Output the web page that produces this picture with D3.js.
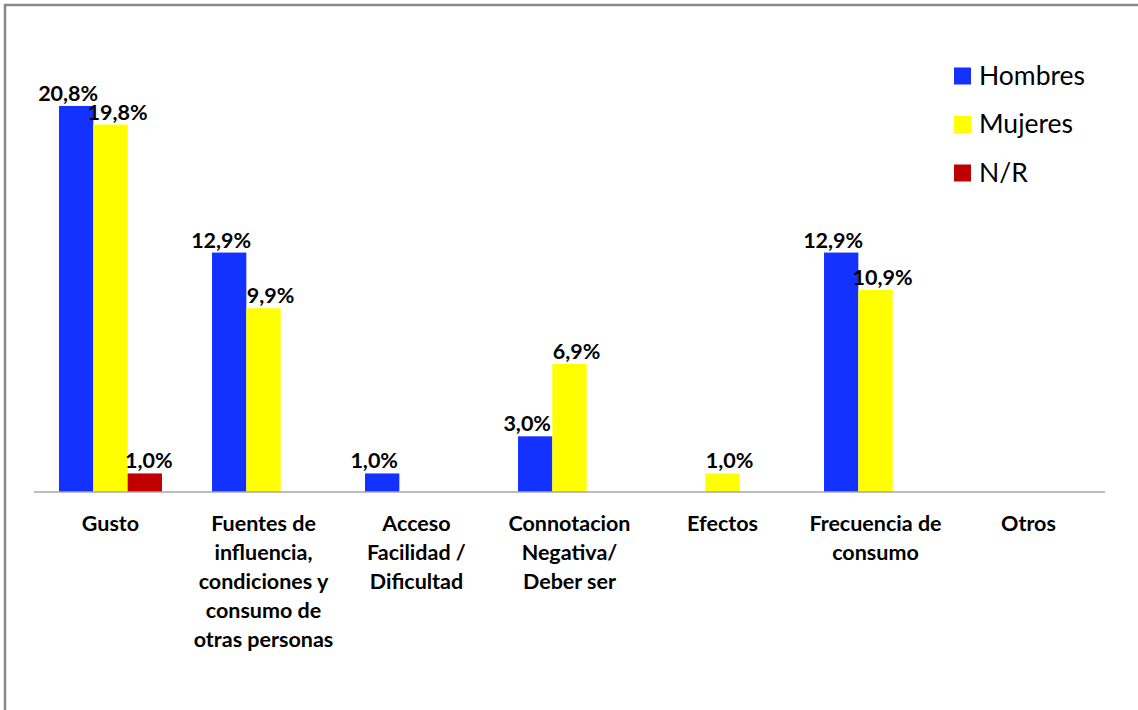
<!DOCTYPE html>
<html>
<head>
<meta charset="utf-8">
<script src="https://cdn.jsdelivr.net/npm/d3@7"></script>
<style>
  body { margin: 0; background: #fff; }
  svg { display: block; }
  .cat-label, .val-label { font-family: Lato, "Open Sans", sans-serif; font-weight: bold; fill: #000; }
  .legend-label { font-family: Lato, "Open Sans", sans-serif; fill: #000; }
</style>
</head>
<body>
<div id="chart"></div>
<script>
// motivos de consumo por sexo (porcentajes)
const categories = ["Gusto", "Fuentes", "Acceso", "Connotacion", "Efectos", "Frecuencia", "Otros"];
const categoryLines = [
    ["Gusto"],
    ["Fuentes de", "influencia,", "condiciones y", "consumo de", "otras personas"],
    ["Acceso", "Facilidad /", "Dificultad"],
    ["Connotacion", "Negativa/", "Deber ser"],
    ["Efectos"],
    ["Frecuencia de", "consumo"],
    ["Otros"]
];
const seriesNames = ["Hombres", "Mujeres", "N/R"];
const hombres = [20.8, 12.9, 1.0, 3.0, 0, 12.9, 0];
const mujeres = [19.8, 9.9, 0, 6.9, 1.0, 10.9, 0];
const noResponde = [1.0, 0, 0, 0, 0, 0, 0];

const seriesValues = [hombres, mujeres, noResponde];
const colors = { "Hombres": "#1432ff", "Mujeres": "#ffff00", "N/R": "#c00000" };
const labelShift = { "Hombres": -8, "Mujeres": 7, "N/R": 4 };

let width = 1138,
    height = 710,
    margin = ({ top: 28, right: 33, bottom: 218, left: 34 });

const svg = d3.select("#chart")
    .append("svg")
    .attr("width", width)
    .attr("height", height);

// frame (only top and left edges fall inside the picture)
svg.append("path")
    .attr("d", "M5,712 L5,5 L1140,5")
    .attr("fill", "none")
    .attr("stroke", "#8a8a8a")
    .attr("stroke-width", 2.5);

let x0 = d3.scaleBand()
    .domain(categories)
    .range([margin.left, width - margin.right])
    .paddingInner(0.327)
    .paddingOuter(0.1635);

let x1 = d3.scaleBand()
    .domain(seriesNames)
    .range([0, x0.bandwidth()]);

let y = d3.scaleLinear()
    .domain([0, 25])
    .range([height - margin.bottom, margin.top]);

let rows = [];
categories.forEach((c, i) => {
    seriesNames.forEach((s, j) => {
        rows.push({ cat: c, series: s, value: seriesValues[j][i] });
    });
});
rows = rows.filter(d => d.value > 0);

svg.append("g")
    .selectAll("rect")
    .data(rows)
    .join("rect")
    .attr("x", d => x0(d.cat) + x1(d.series))
    .attr("y", d => y(d.value))
    .attr("width", x1.bandwidth())
    .attr("height", d => y(0) - y(d.value))
    .attr("fill", d => colors[d.series]);

// baseline
svg.append("line")
    .attr("x1", margin.left)
    .attr("x2", width - margin.right)
    .attr("y1", y(0))
    .attr("y2", y(0))
    .attr("stroke", "#a6a6a6")
    .attr("stroke-width", 1.5);

const fmt = v => v.toFixed(1).replace(".", ",") + "%";

svg.append("g")
    .selectAll("text")
    .data(rows)
    .join("text")
    .attr("class", "val-label")
    .attr("x", d => x0(d.cat) + x1(d.series) + x1.bandwidth() / 2 + labelShift[d.series])
    .attr("y", d => y(d.value) - 5)
    .attr("text-anchor", "middle")
    .style("font-size", "21.5px")
    .text(d => fmt(d.value));

// category labels
const catG = svg.append("g");
categories.forEach((c, i) => {
    const t = catG.append("text")
        .attr("class", "cat-label")
        .attr("text-anchor", "middle")
        .style("font-size", "21.5px");
    categoryLines[i].forEach((line, k) => {
        t.append("tspan")
            .attr("x", x0(c) + x0.bandwidth() / 2)
            .attr("y", y(0) + 39 + k * 29)
            .text(line);
    });
});

// legend
const legend = svg.append("g")
    .selectAll("g")
    .data(seriesNames)
    .join("g")
    .attr("transform", (d, i) => `translate(954,${76 + i * 48.5})`);

legend.append("rect")
    .attr("x", 0)
    .attr("y", -8.5)
    .attr("width", 17)
    .attr("height", 17)
    .attr("fill", d => colors[d]);

legend.append("text")
    .attr("class", "legend-label")
    .attr("x", 25)
    .attr("y", 8.5)
    .style("font-size", "26.5px")
    .text(d => d);
</script>
</body>
</html>
